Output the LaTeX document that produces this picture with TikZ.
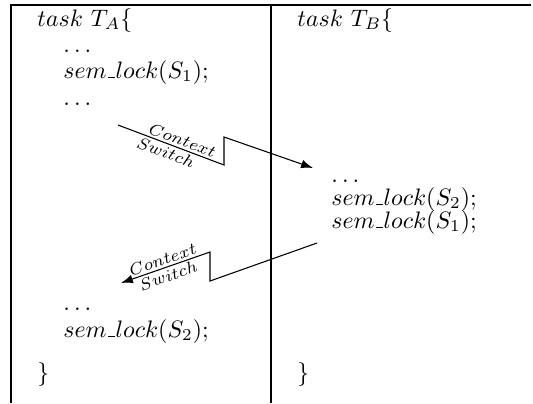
\documentclass[tikz,border=0pt]{standalone}
\usetikzlibrary{arrows.meta}
% plain-TeX style underscore: a short rule on the baseline
\newcommand\lowbar{\leavevmode\kern.06em\vbox{\hrule width.3em}\kern.02em}
\begin{document}
\begin{tikzpicture}[x=0.42pt,y=-0.42pt,
  frame/.style={line width=0.85pt},
  code/.style={anchor=base west, inner sep=0pt},
  switch/.style={line width=0.45pt, -{Latex[length=5pt,width=3.6pt]}},
  cslabel/.style={sloped, font=\scriptsize, inner sep=1pt}]
\useasboundingbox (0,0) rectangle (533,403);

% frame: top rule, outer left rule and the column divider
\coordinate (tl) at (11,5);
\coordinate (tr) at (531,5);
\coordinate (bl) at (11,403);
\coordinate (mt) at (271,5);
\coordinate (mb) at (271,403);
\draw[frame] (bl) -- (tl) -- (tr);
\draw[frame] (mt) -- (mb);

% task A
\node[code] (ta)  at (37,26)  {$task\ T_A\{$};
\node[code] (a1)  at (63,52)  {$\ldots$};
\node[code] (a2)  at (63,78)  {$sem\lowbar lock(S_1);$};
\node[code] (a3)  at (63,105) {$\ldots$};
\node[code] (a4)  at (63,310) {$\ldots$};
\node[code] (a5)  at (63,337) {$sem\lowbar lock(S_2);$};
\node[code] (ae)  at (37,380) {$\}$};

% task B
\node[code] (tb)  at (297,26)  {$task\ T_B\{$};
\node[code] (b1)  at (331,182) {$\ldots$};
\node[code] (b2)  at (331,205) {$sem\lowbar lock(S_2);$};
\node[code] (b3)  at (331,228) {$sem\lowbar lock(S_1);$};
\node[code] (be)  at (297,380) {$\}$};

% context switch A -> B
\coordinate (s1a) at (118,125);
\coordinate (s1b) at (224,165);
\coordinate (s1c) at (224,137);
\coordinate (s1d) at (313,168);
\draw[switch] (s1a) -- node[cslabel,above,pos=0.58] (cx1) {$Context$}
                       node[cslabel,below,pos=0.48] (sw1) {$Switch$} (s1b)
              -- (s1c) -- (s1d);

% context switch B -> A
\coordinate (s2a) at (317,243);
\coordinate (s2b) at (210,281);
\coordinate (s2c) at (210,252);
\coordinate (s2d) at (121,283);
\draw[switch] (s2a) -- (s2b) -- (s2c)
              -- node[cslabel,above] (cx2) {$Context$}
                 node[cslabel,below] (sw2) {$Switch$} (s2d);
\end{tikzpicture}
\end{document}
